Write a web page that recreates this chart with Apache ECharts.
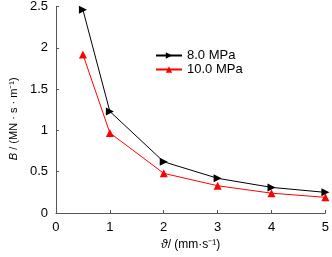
<!DOCTYPE html>
<html>
<head>
<meta charset="utf-8">
<script src="https://cdn.jsdelivr.net/npm/echarts@6/dist/echarts.min.js"></script>
<style>
  html, body { margin: 0; padding: 0; background: #fff; }
  #main { width: 332px; height: 257px; }
</style>
</head>
<body>
<div id="main"></div>
<script>
var speeds = [0.5, 1, 2, 3, 4, 5];
var b8 = [2.46, 1.23, 0.62, 0.42, 0.31, 0.25];
var b10 = [1.92, 0.97, 0.48, 0.33, 0.24, 0.19];
var names = ['8.0 MPa', '10.0 MPa'];

var chartDom = document.getElementById('main');
var myChart = echarts.init(chartDom, null, { renderer: 'canvas' });

function pairs(ys) {
  return speeds.map((x, i) => [x, ys[i]]);
}

var font = 'Liberation Sans';
var axisStyle = {
  axisLine: { show: true, lineStyle: { color: '#555', width: 1 } },
  axisTick: { show: true, inside: true, length: 3, lineStyle: { color: '#555' } },
  axisLabel: { color: '#000', fontSize: 13, fontFamily: font },
  splitLine: { show: false },
};

var option = {
  animation: false,
  textStyle: { fontFamily: font },
  grid: { left: 44, right: 6, top: 5, bottom: 44, containLabel: false },
  legend: {
    orient: 'vertical',
    left: 150,
    top: 44,
    itemWidth: 26,
    itemHeight: 8,
    itemGap: 1,
    textStyle: { fontSize: 13, color: '#000', fontFamily: font },
    data: names,
  },
  xAxis: Object.assign({
    type: 'value',
    min: 0,
    max: 5,
    interval: 1,
    name: '{i|ϑ}/ (mm·s⁻¹)',
    nameLocation: 'middle',
    nameGap: 22,
    nameTextStyle: {
      fontSize: 12, color: '#000', fontFamily: font,
      rich: { i: { fontStyle: 'italic', fontSize: 12, fontFamily: font } },
    },
  }, axisStyle),
  yAxis: Object.assign({
    type: 'value',
    min: 0,
    max: 2.5,
    interval: 0.5,
    name: '{i|B} / (MN · s · m⁻¹)',
    nameLocation: 'middle',
    nameGap: 26,
    nameTextStyle: {
      fontSize: 11, color: '#000', fontFamily: font, padding: [0, 18, 0, 0],
      rich: { i: { fontStyle: 'italic', fontSize: 11, fontFamily: font } },
    },
  }, axisStyle),
  series: [
    {
      name: names[0],
      type: 'line',
      data: pairs(b8),
      symbol: 'triangle',
      symbolRotate: -90,
      symbolSize: 8,
      showAllSymbol: true,
      lineStyle: { color: '#000', width: 1 },
      itemStyle: { color: '#000' },
    },
    {
      name: names[1],
      type: 'line',
      data: pairs(b10),
      symbol: 'triangle',
      symbolSize: 8,
      showAllSymbol: true,
      lineStyle: { color: '#f00', width: 1 },
      itemStyle: { color: '#f00' },
    },
  ],
};

option && myChart.setOption(option);
</script>
</body>
</html>
